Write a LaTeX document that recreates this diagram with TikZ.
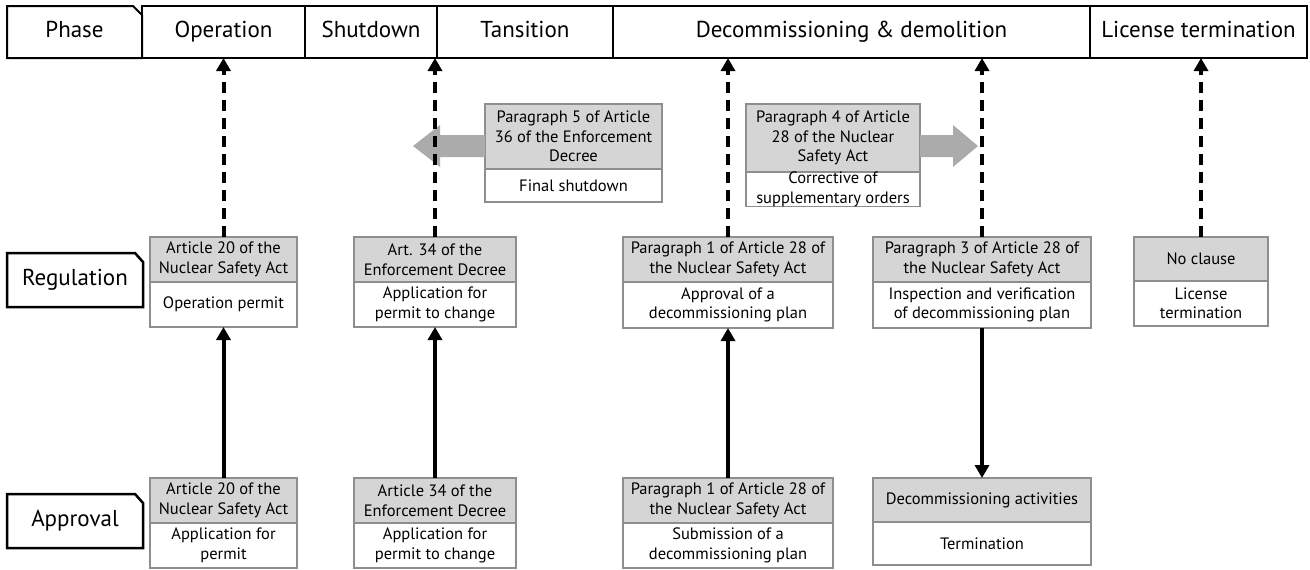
\documentclass[tikz,border=0pt]{standalone}
\usepackage{fontspec}
\setmainfont{PT Sans}
\usetikzlibrary{arrows.meta}
\definecolor{lawgray}{HTML}{D5D5D5}
\definecolor{edgegray}{HTML}{8E8E8E}
\definecolor{blockgray}{HTML}{ABABAB}
\newcommand\boxfont{\fontsize{16.5}{19.5}\selectfont}
\newcommand\headfont{\fontsize{23}{27}\selectfont}
% law box: gray clause cell on top, white action cell below
% #1 name, #2 x, #3 y, #4 width, #5 top height, #6 bottom height, #7 clause, #8 action
\newcommand\lawbox[8]{%
  \node[lawcell, minimum width=#4, minimum height=#5] (#1t) at (#2,#3) {#7};
  \node[actcell, minimum width=#4, minimum height=#6] (#1b) at (#1t.south) {#8};
}
\begin{document}
\begin{tikzpicture}[x=1pt,y=-1pt,
  hline/.style={draw=black, line width=2pt},
  headtext/.style={font=\headfont, text height=16pt, text depth=5pt},
  hcell/.style={hline, headtext, inner sep=0pt, outer sep=0pt, anchor=north west,
    minimum height=52},
  rowlabel/.style={draw=black, line width=2.5pt},
  lawcell/.style={draw=edgegray, fill=lawgray, line width=1.2pt, inner sep=0pt,
    outer sep=0pt, anchor=north west, align=center, font=\boxfont},
  actcell/.style={draw=edgegray, fill=white, line width=1.2pt, inner sep=0pt,
    outer sep=0pt, anchor=north, align=center, font=\boxfont},
  uplink/.style={line width=4pt, -{Triangle[width=14pt,length=13pt]}},
  dashlink/.style={uplink, dash pattern=on 11pt off 7pt},
]
\useasboundingbox (0,0) rectangle (1310,570);

% phase header
\draw[hline] (7,6) -- (133,6) -- (142,15) -- (142,58) -- (7,58) -- cycle;
\node[headtext, inner sep=0pt] (hph) at (74.5,32) {Phase};
\node[hcell, minimum width=163] (hop) at (142,6) {Operation};
\node[hcell, minimum width=132] (hsd) at (305,6) {Shutdown};
\node[hcell, minimum width=176] (htr) at (437,6) {Tansition};
\node[hcell, minimum width=477] (hdc) at (613,6) {Decommissioning \& demolition};
\node[hcell, minimum width=217] (hlt) at (1090,6) {License termination};

% row labels
\draw[rowlabel] (7,253) -- (135,253) -- (143,262) -- (143,307) -- (7,307) -- cycle;
\node[headtext, inner sep=0pt] (lreg) at (75,280) {Regulation};
\draw[rowlabel] (7,494) -- (135,494) -- (143,503) -- (143,548) -- (7,548) -- cycle;
\node[headtext, inner sep=0pt] (lapp) at (75,521) {Approval};

% side orders
\lawbox{u6}{485}{104}{177}{65}{33}{Paragraph 5 of Article\\36 of the Enforcement\\Decree}{Final shutdown}
\lawbox{u7}{746}{104}{174}{68}{30}{Paragraph 4 of Article\\28 of the Nuclear\\Safety Act}{\fontsize{16.5}{16}\selectfont Corrective of\\supplementary orders}

% gray block arrows
\fill[blockgray] (u6t.west |- 0,135) -- (440,135) -- (440,125) -- (413,146)
  -- (440,167) -- (440,157) -- (u6t.west |- 0,157) -- cycle;
\fill[blockgray] (u7t.east |- 0,135) -- (953,135) -- (953,125) -- (978,146)
  -- (953,167) -- (953,157) -- (u7t.east |- 0,157) -- cycle;

% regulation row
\lawbox{r1}{150}{237}{147}{45}{45}{Article 20 of the\\Nuclear Safety Act}{Operation permit}
\lawbox{r2}{354}{237}{162}{45}{45}{Art. 34 of the\\Enforcement Decree}{Application for\\permit to change}
\lawbox{r3}{623}{237}{210}{45}{46}{Paragraph 1 of Article 28 of\\the Nuclear Safety Act}{Approval of a\\decommissioning plan}
\lawbox{r4}{873}{237}{218}{45}{46}{Paragraph 3 of Article 28 of\\the Nuclear Safety Act}{Inspection and verification\\of decommissioning plan}
\lawbox{r5}{1134}{237}{134}{44}{45}{No clause}{License\\termination}

% approval row
\lawbox{a8}{150}{478}{147}{45}{45}{Article 20 of the\\Nuclear Safety Act}{Application for\\permit}
\lawbox{a9}{354}{478}{162}{45}{45}{Article 34 of the\\Enforcement Decree}{Application for\\permit to change}
\lawbox{a10}{623}{478}{210}{45}{45}{Paragraph 1 of Article 28 of\\the Nuclear Safety Act}{Submission of a\\decommissioning plan}
\lawbox{a11}{873}{478}{218}{44}{43}{Decommissioning activities}{Termination}

% links to the phases
\draw[dashlink] (r1t.north) -- (r1t.north |- hop.south);
\draw[dashlink] (r2t.north) -- (r2t.north |- hsd.south);
\draw[dashlink] (r3t.north) -- (r3t.north |- hdc.south);
\draw[dashlink] (r4t.north) -- (r4t.north |- hdc.south);
\draw[dashlink] (r5t.north) -- (r5t.north |- hlt.south);

% approval to regulation
\draw[uplink] (a8t.north) -- (r1b.south);
\draw[uplink] (a9t.north) -- (r2b.south);
\draw[uplink] (a10t.north) -- (r3b.south);
\draw[uplink] (r4b.south) -- (a11t.north);
\end{tikzpicture}
\end{document}
